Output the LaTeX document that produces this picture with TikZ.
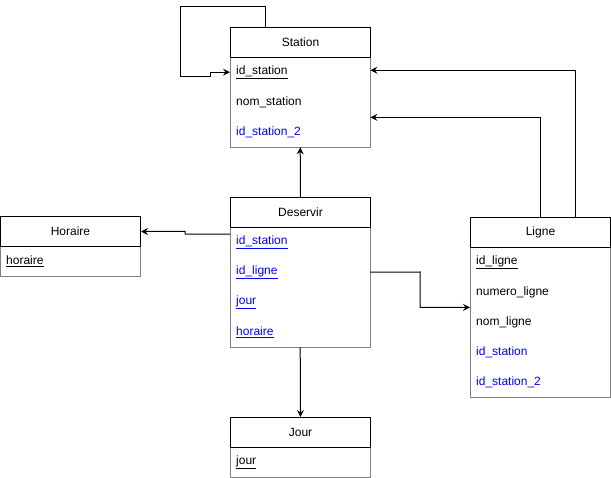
\documentclass[tikz,border=0pt]{standalone}
\usepackage{fontspec}
\setmainfont{Liberation Sans}
\usetikzlibrary{arrows.meta}
\definecolor{fk}{RGB}{0,0,255}
\definecolor{boxline}{RGB}{128,128,128}
\begin{document}
\begin{tikzpicture}[x=1pt,y=-1pt,
  txt/.style={font=\fontsize{12}{14}\selectfont},
  title/.style={txt, draw=black, fill=white, line width=1pt, minimum width=140pt,
    minimum height=30pt, anchor=north west, inner sep=0pt},
  field/.style={txt, draw=none, minimum width=140pt, minimum height=30pt,
    anchor=north west, inner xsep=6pt, inner ysep=0pt, text width=128pt, align=left},
  body/.style={draw=boxline, line width=1pt},
  conn/.style={draw=black, line width=1pt, -{Stealth[length=7pt,width=7pt,inset=2.5pt]}},
  fkey/.style={text=fk}
]
\useasboundingbox (0,0) rectangle (611,478);

% ---- Station ----
\node[field] (s1) at (230,57) {\underline{id\_station}};
\node[field] (s2) at (230,87) {nom\_station};
\node[field, fkey] (s3) at (230,117) {id\_station\_2};
\draw[body] (s1.north west) rectangle (s3.south east);
\node[title] (s0) at (230,27) {Station};

% ---- Horaire ----
\node[field] (h1) at (0,246) {\underline{horaire}};
\draw[body] (h1.north west) rectangle (h1.south east);
\node[title] (h0) at (0,216) {Horaire};

% ---- Deservir ----
\node[field, fkey] (d1) at (230,227) {\underline{id\_station}};
\node[field, fkey] (d2) at (230,257) {\underline{id\_ligne}};
\node[field, fkey] (d3) at (230,287) {\underline{jour}};
\node[field, fkey] (d4) at (230,317) {\underline{horaire}};
\draw[body] (d1.north west) rectangle (d4.south east);
\node[title] (d0) at (230,197) {Deservir};

% ---- Ligne ----
\node[field] (l1) at (470,247) {\underline{id\_ligne}};
\node[field] (l2) at (470,277) {numero\_ligne};
\node[field] (l3) at (470,307) {nom\_ligne};
\node[field, fkey] (l4) at (470,337) {id\_station};
\node[field, fkey] (l5) at (470,367) {id\_station\_2};
\draw[body] (l1.north west) rectangle (l5.south east);
\node[title] (l0) at (470,217) {Ligne};

% ---- Jour ----
\node[field] (j1) at (230,447) {\underline{jour}};
\draw[body] (j1.north west) rectangle (j1.south east);
\node[title] (j0) at (230,417) {Jour};

% ---- Connectors ----
% Station self reference
\draw[conn] ([xshift=35pt]s0.north west) |- (180,7) |- (210,77) |- (s1.west);
% Ligne -> Station
\draw[conn] ([xshift=105pt]l0.north west) |- ([yshift=2pt]s1.east);
\draw[conn] ([xshift=70pt]l0.north west) |- (s2.south east);
% Deservir -> Station
\draw[conn] (d0.north) -- (s3.south);
% Deservir -> Horaire
\draw[conn] ([yshift=8pt]d1.west) -- (185,234) |- (h0.east);
% Deservir -> Ligne
\draw[conn] (d2.east) -- (420,272) |- (l2.south west);
% Deservir -> Jour
\draw[conn] (d4.south) -- (j0.north);
\end{tikzpicture}
\end{document}
